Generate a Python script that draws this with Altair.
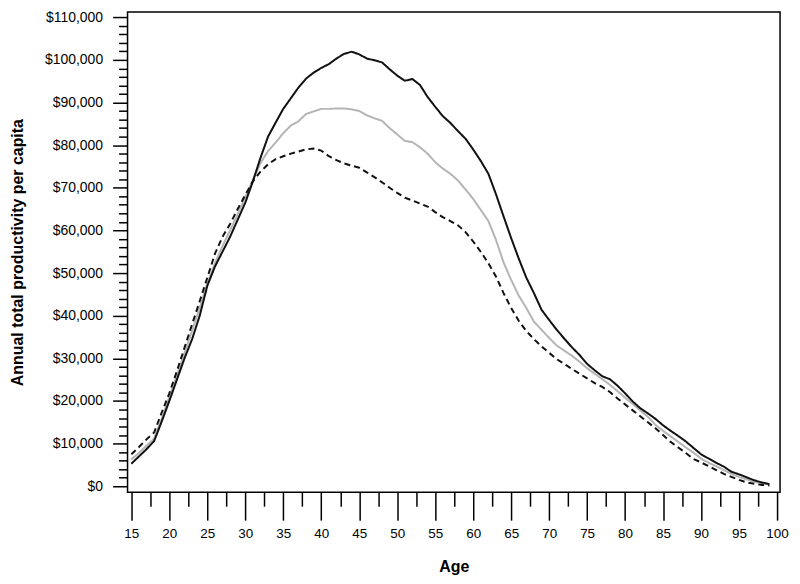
import altair as alt
import pandas as pd

ages = list(range(15, 100))

series_names = ["Scenario 2", "Scenario 3", "Scenario 1"]

# Solid black line
scenario_1 = [5300, 7000, 8700, 10600, 15200, 20000, 25000, 30000, 34500, 40000,
              47000, 51500, 55000, 58500, 62500, 66500, 71500, 77000, 82000, 85300,
              88500, 91000, 93500, 95600, 97000, 98100, 99000, 100300, 101400, 101900,
              101300, 100300, 99900, 99400, 97800, 96300, 95100, 95500, 94100, 91300,
              89000, 86800, 85200, 83300, 81500, 79000, 76300, 73300, 68500, 63300,
              58200, 53400, 48900, 45300, 41400, 39000, 36700, 34600, 32600, 30800,
              28700, 27200, 25800, 25100, 23600, 21800, 19900, 18300, 17100, 15800,
              14300, 13000, 11800, 10500, 9000, 7500, 6500, 5500, 4600, 3400,
              2800, 2100, 1400, 900, 500]

# Grey line
scenario_2 = [6300, 7800, 9500, 11200, 15800, 21000, 26000, 31200, 36500, 41800,
              47500, 52300, 56300, 60000, 63800, 67800, 71800, 75800, 78600, 80600,
              82800, 84600, 85600, 87300, 87900, 88500, 88500, 88600, 88600, 88400,
              88000, 87000, 86300, 85700, 84000, 82500, 81000, 80700, 79500, 78000,
              76000, 74500, 73300, 71700, 69600, 67400, 64800, 62200, 57800, 52500,
              48400, 44700, 41800, 38600, 36700, 34800, 33000, 31800, 30600, 29200,
              27700, 26400, 25100, 23800, 22300, 20800, 19300, 17800, 16300, 14400,
              13000, 11700, 10400, 9100, 7900, 6500, 5500, 4700, 3800, 2900,
              2200, 1600, 1100, 700, 400]

# Dashed black line
scenario_3 = [7500, 9200, 11000, 12600, 17300, 21800, 27000, 32500, 38000, 43400,
              48900, 54500, 58500, 61500, 65000, 68300, 71500, 73800, 75500, 76700,
              77400, 78000, 78500, 79000, 79200, 78700, 77400, 76500, 75700, 75200,
              74700, 73600, 72500, 71300, 70000, 68800, 67700, 67000, 66300, 65600,
              64300, 63100, 62200, 61200, 59600, 57400, 55000, 52300, 49200, 45300,
              41800, 38800, 36400, 34500, 32800, 31300, 29800, 28700, 27500, 26400,
              25300, 24200, 23300, 22100, 20600, 19200, 17800, 16400, 15000, 13600,
              12000, 10400, 9100, 7800, 6400, 5600, 4700, 3800, 2900, 2200,
              1500, 900, 600, 300, 200]

x_major_ticks = [15 + 5 * i for i in range(18)]
x_minor_ticks = [17.5 + 5 * i for i in range(17)]
y_major_ticks = [10000 * i for i in range(12)]
y_minor_ticks = [2000 * i for i in range(56) if i % 5 != 0]

rows = []
for name, vals in zip(series_names, [scenario_2, scenario_3, scenario_1]):
    for a, v in zip(ages, vals):
        rows.append({"age": a, "value": v, "series": name})
df = pd.DataFrame(rows)

FONT = "Liberation Sans"

x_scale = alt.Scale(domain=[14.5, 100.4], nice=False, zero=False)
y_scale = alt.Scale(domain=[-1400, 111200], nice=False, zero=False)

x_major = alt.Axis(
    orient="bottom", values=x_major_ticks, format="d",
    tickSize=28, tickColor="black", tickWidth=1.5, domain=False, grid=False,
    labelFont=FONT, labelFontSize=13.5, labelColor="black", labelPadding=6,
    labelOverlap=False, labelFlush=False,
    title="Age", titleFont=FONT, titleFontSize=16, titleFontWeight="bold",
    titleColor="black", titlePadding=19,
)
y_major = alt.Axis(
    orient="left", values=y_major_ticks,
    labelExpr="'$' + format(datum.value, ',')",
    tickSize=15, tickColor="black", tickWidth=1.5, domain=False, grid=False,
    labelFont=FONT, labelFontSize=14, labelColor="black", labelPadding=10,
    labelOverlap=False, labelFlush=False,
    title="Annual total productivity per capita", titleFont=FONT, titleFontSize=16,
    titleFontWeight="bold", titleColor="black", titlePadding=19,
)
x_minor = alt.Axis(
    orient="bottom", values=x_minor_ticks, tickSize=14, tickColor="black", tickWidth=1.5,
    domain=False, grid=False, labels=False, title=None,
)
y_minor = alt.Axis(
    orient="left", values=y_minor_ticks, tickSize=9, tickColor="black", tickWidth=1.5,
    domain=False, grid=False, labels=False, title=None,
)

lines = alt.Chart(df).mark_line(strokeWidth=2).encode(
    x=alt.X("age:Q", scale=x_scale, axis=x_major),
    y=alt.Y("value:Q", scale=y_scale, axis=y_major),
    color=alt.Color("series:N",
                    scale=alt.Scale(domain=series_names, range=["#b5b5b5", "#111111", "#111111"]),
                    legend=None),
    strokeDash=alt.StrokeDash("series:N",
                              scale=alt.Scale(domain=series_names, range=[[1, 0], [6, 4], [1, 0]]),
                              legend=None),
    order=alt.Order("age:Q"),
)

minor = alt.Chart(df).mark_point(opacity=0, size=1).encode(
    x=alt.X("age:Q", scale=x_scale, axis=x_minor),
    y=alt.Y("value:Q", scale=y_scale, axis=y_minor),
)

chart = alt.layer(minor, lines).resolve_axis(
    x="independent", y="independent"
).properties(
    width=655, height=482,
    padding={"left": 120, "top": 3, "right": 12, "bottom": 85},
    autosize=alt.AutoSizeParams(type="none"),
).configure_view(stroke="black", strokeWidth=1.5)

chart.save("out.html", embed_options={"renderer": "svg", "actions": False})
